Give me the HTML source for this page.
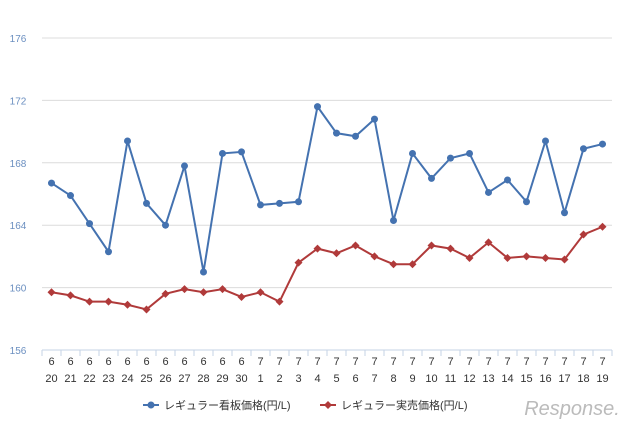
<!DOCTYPE html>
<html><head><meta charset="utf-8"><style>
body{margin:0;background:#fff;width:640px;height:430px;overflow:hidden}
svg text{font-family:"Liberation Sans","Noto Sans CJK JP",sans-serif}
</style></head><body>
<svg id="c" width="640" height="430"></svg>
<script>
const categoriesMonth=["6","6","6","6","6","6","6","6","6","6","6","7","7","7","7","7","7","7","7","7","7","7","7","7","7","7","7","7","7","7"];
const categoriesDay=["20","21","22","23","24","25","26","27","28","29","30","1","2","3","4","5","6","7","8","9","10","11","12","13","14","15","16","17","18","19"];
const signPrice=[166.7,165.9,164.1,162.3,169.4,165.4,164.0,167.8,161.0,168.6,168.7,165.3,165.4,165.5,171.6,169.9,169.7,170.8,164.3,168.6,167.0,168.3,168.6,166.1,166.9,165.5,169.4,164.8,168.9,169.2];
const actualPrice=[159.7,159.5,159.1,159.1,158.9,158.6,159.6,159.9,159.7,159.9,159.4,159.7,159.1,161.6,162.5,162.2,162.7,162.0,161.5,161.5,162.7,162.5,161.9,162.9,161.9,162.0,161.9,161.8,163.4,163.9];
const yTicks=[156,160,164,168,172,176];
const NS="http://www.w3.org/2000/svg",svg=document.getElementById('c');
const x0=42,x1=612,yTop=38,yBot=350,vMin=156,vMax=176;
const step=(x1-x0)/categoriesDay.length;
const xs=i=>x0+step*(i+0.5);
const ys=v=>yBot-(v-vMin)/(vMax-vMin)*(yBot-yTop);
function mk(t,a,p){const e=document.createElementNS(NS,t);for(const k in a)e.setAttribute(k,a[k]);(p||svg).appendChild(e);return e;}
yTicks.forEach(t=>{
 const g=mk('line',{x1:x0,x2:x1,y1:ys(t),y2:ys(t),stroke:t===156?'#c5d3e6':'#dcdcdc','stroke-width':1});
 
 
 const l=mk('text',{x:18,y:ys(t)+4,'font-size':10,fill:'#6b8fc0','text-anchor':'middle'});l.textContent=t;
 
 
});
for(let i=0;i<=categoriesDay.length;i++){const tk=mk('line',{x1:x0+step*i,x2:x0+step*i,y1:yBot,y2:yBot+6,stroke:'#c5d3e6'});
 
 }
categoriesDay.forEach((d,i)=>{
 const a=mk('text',{x:xs(i),y:365,'font-size':11,fill:'#333','text-anchor':'middle'});a.textContent=categoriesMonth[i];
 
 
 const b=mk('text',{x:xs(i),y:382,'font-size':11,fill:'#333','text-anchor':'middle'});b.textContent=d;
 
 
});
function series(vals,color,name,diamond){
 const pl=mk('polyline',{points:vals.map((v,i)=>xs(i)+','+ys(v)).join(' '),fill:'none',stroke:color,'stroke-width':2});
 
 
 vals.forEach((v,i)=>{let m;
  if(diamond)m=mk('polygon',{points:`${xs(i)},${ys(v)-4} ${xs(i)+4},${ys(v)} ${xs(i)},${ys(v)+4} ${xs(i)-4},${ys(v)}`,fill:color});
  else m=mk('circle',{cx:xs(i),cy:ys(v),r:3.5,fill:color});
  
  
 });
}
series(signPrice,'#4472b0','sign-price',false);
series(actualPrice,'#b03a3a','actual-price',true);
</script>
<svg width="640" height="430" style="position:absolute;left:0;top:0">
 <g>
  <line x1="143" x2="159" y1="405" y2="405" stroke="#4472b0" stroke-width="2"/><circle cx="151" cy="405" r="3.5" fill="#4472b0"/>
  <text x="164" y="409" font-size="11" fill="#333" font-family="Liberation Sans,Noto Sans CJK JP,sans-serif">レギュラー看板価格(円/L)</text>
 </g>
 <g>
  <line x1="320" x2="336" y1="405" y2="405" stroke="#b03a3a" stroke-width="2"/><polygon points="328,401 332,405 328,409 324,405" fill="#b03a3a"/>
  <text x="341" y="409" font-size="11" fill="#333" font-family="Liberation Sans,Noto Sans CJK JP,sans-serif">レギュラー実売価格(円/L)</text>
 </g>
 <text x="572" y="415" font-size="20" font-style="italic" fill="#bbb" text-anchor="middle" font-family="Liberation Sans,sans-serif">Response.</text>
</svg>
</body></html>
